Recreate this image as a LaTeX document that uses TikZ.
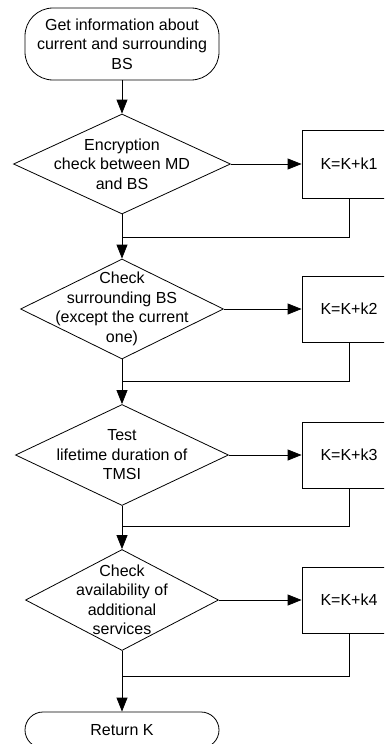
\documentclass[tikz,border=0pt]{standalone}
\usepackage{fontspec}
\setmainfont{Liberation Sans}
\usetikzlibrary{shapes.geometric,arrows.meta}
\begin{document}
\begin{tikzpicture}[x=1pt,y=-1pt,
  every node/.style={font=\fontsize{16}{19.5}\selectfont},
  line/.style={draw=black,line width=0.8pt},
  arr/.style={line,-{Triangle[length=14pt,width=11pt]}},
  term/.style={line,rectangle,rounded corners=28pt,minimum width=194pt,inner sep=0pt,align=center},
  dec/.style={line,diamond,inner sep=0pt},
  proc/.style={line,rectangle,minimum width=94pt,inner sep=0pt}]
\useasboundingbox (0,0) rectangle (384,744);
\begin{scope}
\clip (0,0) rectangle (384,744);

% start terminal
\node[term, minimum height=72pt] (start) at (122,44)
  {Get information about\\current and surrounding\\BS};

% decisions
\node[dec, minimum width=217pt, minimum height=100pt,
  label={[align=center]center:Encryption\\check between MD\\and BS}] (d1) at (122,164) {};
\node[dec, minimum width=203pt, minimum height=100pt,
  label={[align=center]center:Check\\surrounding BS\\(except the current\\one)}] (d2) at (122,309) {};
\node[dec, minimum width=213pt, minimum height=101pt,
  label={[align=center]center:Test\\lifetime duration of\\TMSI}] (d3) at (122,455) {};
\node[dec, minimum width=193pt, minimum height=101pt,
  label={[align=center]center:Check\\availability of\\additional\\services}] (d4) at (122,600) {};

% weight updates
\node[proc, minimum height=68pt] (b1) at (349,164) {K=K+k1};
\node[proc, minimum height=66pt] (b2) at (349,309) {K=K+k2};
\node[proc, minimum height=66pt] (b3) at (349,455) {K=K+k3};
\node[proc, minimum height=66pt] (b4) at (349,600) {K=K+k4};

% end terminal
\node[term, minimum height=36pt, rounded corners=18pt] (ret) at (122,730) {Return K};

% merge points
\coordinate (m1) at (122,237);
\coordinate (m2) at (122,381);
\coordinate (m3) at (122,526);
\coordinate (m4) at (122,676);

% connectors
\draw[arr] (start) -- (d1);
\foreach \i in {1,2,3,4} {
  \draw[arr] (d\i) -- (b\i);
  \draw[line] (b\i.south) |- (m\i);
}
\draw[arr] (d1.south) -- (d2.north);
\draw[arr] (d2.south) -- (d3.north);
\draw[arr] (d3.south) -- (d4.north);
\draw[arr] (d4.south) -- (ret.north);
\end{scope}
\end{tikzpicture}
\end{document}
